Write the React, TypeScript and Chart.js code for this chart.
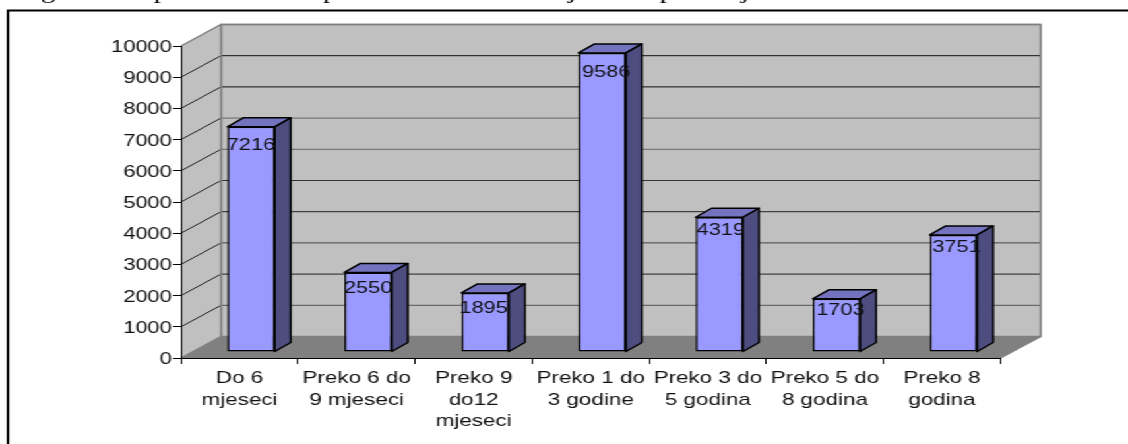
import React, { useEffect, useRef } from "react";
import { Chart, registerables } from "chart.js";

Chart.register(...registerables);

const categories = [
  ["Do 6", "mjeseci"],
  ["Preko 6 do", "9 mjeseci"],
  ["Preko 9", "do12", "mjeseci"],
  ["Preko 1 do", "3 godine"],
  ["Preko 3 do", "5 godina"],
  ["Preko 5 do", "8 godina"],
  ["Preko 8", "godina"],
];
const values = [7216, 2550, 1895, 9586, 4319, 1703, 3751];
const gridGreys = ["#555", "#222", "#444", "#222", "#333", "#666", "#666", "#111", "#111"];
const gridLevels = [1000, 2000, 3000, 4000, 5000, 6000, 7000, 8000, 9000];
// Only the descender tails of a clipped caption line above the frame are visible.
const captionGlyphs = ["g", "p", "p", "j", "p", "j"];
const captionX = [48, 161, 330, 572, 667, 745];
const labelNudgeX = [0, 0, -1.5, 4, 1.5, 4, 3];
const labelNudgeY = [19, 16, 16, 20, 13.5, 12, 12];

const PAGE_W = 1128;
const PAGE_H = 444;
const W = 855;
const lx = (px: number) => (px * W) / PAGE_W;

const FONT = "Liberation Sans, Arial, sans-serif";
const WALL_DX = lx(40);
const WALL_DY = 21.5;
const BAR_DX = lx(11.5);
const BAR_DY = 6;
const DEPTH_X = lx(16);
const DEPTH_Y = 9;
const LW = 1.5;

const scene = {
  id: "scene3d",
  beforeDraw(chart: any) {
    const { ctx, scales } = chart;
    const xs = scales.x;
    const ys = scales.y;
    const L = xs.left;
    const R = xs.right;
    const T = ys.getPixelForValue(10000);
    const B = ys.getPixelForValue(0);
    ctx.save();
    // frame: only top and left edges are inside the picture
    ctx.strokeStyle = "#000";
    ctx.lineWidth = 2;
    ctx.beginPath();
    ctx.moveTo(lx(8), PAGE_H);
    ctx.lineTo(lx(8), 10.5);
    ctx.lineTo(W, 10.5);
    ctx.stroke();
    // clipped caption tails
    ctx.fillStyle = "#000";
    ctx.font = "22px 'Liberation Serif', serif";
    ctx.textAlign = "center";
    ctx.textBaseline = "alphabetic";
    captionGlyphs.forEach((g, i) => ctx.fillText(g, lx(captionX[i]), -2));
    // back wall
    ctx.fillStyle = "#C0C0C0";
    ctx.strokeStyle = "#808080";
    ctx.lineWidth = LW;
    ctx.beginPath();
    ctx.rect(L + WALL_DX, T - WALL_DY, R - L, B - T);
    ctx.fill();
    ctx.stroke();
    // left wall
    ctx.beginPath();
    ctx.moveTo(L, T);
    ctx.lineTo(L + WALL_DX, T - WALL_DY);
    ctx.lineTo(L + WALL_DX, B - WALL_DY);
    ctx.lineTo(L, B);
    ctx.closePath();
    ctx.fill();
    // floor
    ctx.fillStyle = "#808080";
    ctx.beginPath();
    ctx.moveTo(L, B);
    ctx.lineTo(L + WALL_DX, B - WALL_DY);
    ctx.lineTo(R + WALL_DX, B - WALL_DY);
    ctx.lineTo(R, B);
    ctx.closePath();
    ctx.fill();
    // grid lines
    ctx.lineWidth = 1;
    gridLevels.forEach((v, i) => {
      const y = ys.getPixelForValue(v);
      ctx.strokeStyle = gridGreys[i];
      ctx.beginPath();
      ctx.moveTo(L + WALL_DX, y - WALL_DY);
      ctx.lineTo(R + WALL_DX, y - WALL_DY);
      ctx.stroke();
      ctx.strokeStyle = "#222";
      ctx.beginPath();
      ctx.moveTo(L, y);
      ctx.lineTo(L + WALL_DX, y - WALL_DY);
      ctx.stroke();
    });
    // wall edges
    ctx.strokeStyle = "#808080";
    ctx.lineWidth = LW;
    ctx.beginPath();
    ctx.moveTo(L, T);
    ctx.lineTo(L + WALL_DX, T - WALL_DY);
    ctx.lineTo(R + WALL_DX, T - WALL_DY);
    ctx.lineTo(R + WALL_DX, B - WALL_DY);
    ctx.lineTo(R, B);
    ctx.moveTo(L + WALL_DX, T - WALL_DY);
    ctx.lineTo(L + WALL_DX, B - WALL_DY);
    ctx.lineTo(L, B);
    ctx.stroke();
    ctx.restore();
  },
  beforeDatasetDraw(chart: any, args: any) {
    const { ctx } = chart;
    ctx.save();
    ctx.translate(BAR_DX, -BAR_DY);
    ctx.strokeStyle = "#000";
    ctx.lineWidth = LW;
    ctx.lineJoin = "round";
    args.meta.data.forEach((bar: any) => {
      const l = bar.x - bar.width / 2;
      const r = bar.x + bar.width / 2;
      ctx.fillStyle = "#7373BF";
      ctx.beginPath();
      ctx.moveTo(l, bar.y);
      ctx.lineTo(l + DEPTH_X, bar.y - DEPTH_Y);
      ctx.lineTo(r + DEPTH_X, bar.y - DEPTH_Y);
      ctx.lineTo(r, bar.y);
      ctx.closePath();
      ctx.fill();
      ctx.stroke();
      ctx.fillStyle = "#4D4D80";
      ctx.beginPath();
      ctx.moveTo(r, bar.y);
      ctx.lineTo(r + DEPTH_X, bar.y - DEPTH_Y);
      ctx.lineTo(r + DEPTH_X, bar.base - DEPTH_Y);
      ctx.lineTo(r, bar.base);
      ctx.closePath();
      ctx.fill();
      ctx.stroke();
    });
  },
  afterDatasetDraw(chart: any, args: any) {
    const { ctx } = chart;
    ctx.fillStyle = "#111";
    ctx.font = `16.5px ${FONT}`;
    ctx.textAlign = "center";
    ctx.textBaseline = "middle";
    args.meta.data.forEach((bar: any, i: number) => {
      ctx.fillText(String(values[i]), bar.x + lx(labelNudgeX[i]), bar.y + labelNudgeY[i]);
    });
    ctx.restore();
  },
};

export default function App() {
  const ref = useRef<HTMLCanvasElement>(null);
  useEffect(() => {
    const chart = new Chart(ref.current as HTMLCanvasElement, {
      type: "bar",
      data: {
        labels: categories as any,
        datasets: [
          {
            data: values,
            backgroundColor: "#9999FF",
            borderColor: "#000000",
            borderWidth: LW,
            borderSkipped: false,
            barPercentage: 0.405,
            categoryPercentage: 1,
            clip: false as any,
          },
        ],
      },
      options: {
        animation: false,
        responsive: false,
        devicePixelRatio: 1,
        layout: { padding: { top: 46, right: lx(PAGE_W - 1000.5), left: 0, bottom: 0 } },
        plugins: { legend: { display: false }, tooltip: { enabled: false }, title: { display: false } },
        scales: {
          x: {
            afterFit: (s: any) => {
              s.height = PAGE_H - 358;
            },
            grid: { drawOnChartArea: false, tickLength: 6, tickColor: "#000", offset: true },
            border: { color: "#000", width: 1 },
            ticks: {
              autoSkip: false,
              maxRotation: 0,
              minRotation: 0,
              padding: 3.5,
              color: "#111",
              font: { family: FONT, size: 17, lineHeight: 1.275 },
            },
          },
          y: {
            min: 0,
            max: 10000,
            afterFit: (s: any) => {
              s.width = lx(181);
            },
            grid: { drawOnChartArea: false, tickLength: 6, tickColor: "#000" },
            border: { color: "#000", width: 1 },
            ticks: {
              stepSize: 1000,
              padding: 1,
              labelOffset: 1.5,
              color: "#111",
              font: { family: FONT, size: 16.5 },
              callback: (v: any) => String(v),
            },
          },
        },
      },
      plugins: [scene],
    });
    return () => chart.destroy();
  }, []);
  return (
    <div
      style={{
        position: "fixed",
        left: 0,
        top: 0,
        width: W,
        height: PAGE_H,
        transformOrigin: "0 0",
        transform: `scaleX(${PAGE_W / W})`,
        background: "#fff",
      }}
    >
      <canvas ref={ref} width={W} height={PAGE_H} style={{ display: "block", width: W, height: PAGE_H }} />
    </div>
  );
}
